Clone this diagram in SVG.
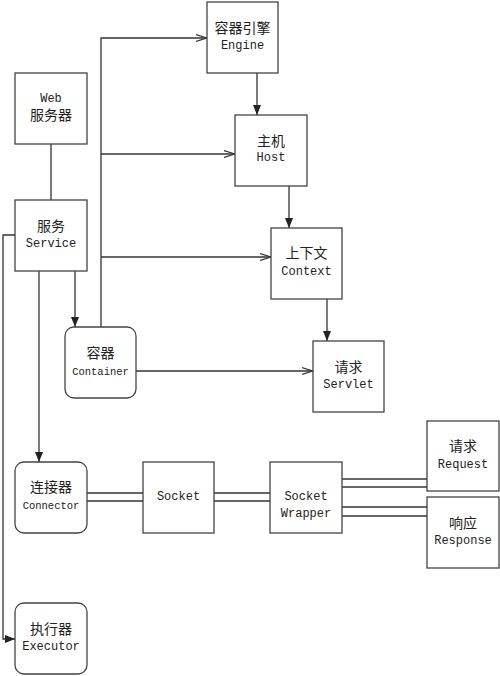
<svg xmlns="http://www.w3.org/2000/svg" width="500" height="676" viewBox="0 0 500 676">
<style>
.box{fill:#fff;stroke:#444;stroke-width:1.3}
.ln{fill:none;stroke:#333;stroke-width:1.3}
text{font-family:"Liberation Mono","Noto Sans CJK SC",monospace;fill:#222;text-anchor:middle;dominant-baseline:central}
.zh{font-size:14px}
.en{font-size:12px}
.sm{font-size:10.5px}
</style>
<defs>
<marker id="fa" viewBox="0 0 10 10" refX="10" refY="5" markerWidth="10" markerHeight="10" markerUnits="userSpaceOnUse" orient="auto">
<path d="M0,1 L10,5 L0,9 Z" fill="#222"/>
</marker>
<marker id="oa" viewBox="0 0 12 10" refX="11" refY="5" markerWidth="12" markerHeight="10" markerUnits="userSpaceOnUse" orient="auto">
<path d="M0,1.5 L11,5 L0,8.5" fill="none" stroke="#333" stroke-width="1.2"/>
</marker>
</defs>
<rect width="500" height="676" fill="#fff"/>
<g id="connectors">
<line class="ln" x1="51" y1="144" x2="51" y2="200"/>
<polyline class="ln" points="101,327 101,38 207,38" marker-end="url(#oa)"/>
<line class="ln" x1="101" y1="154" x2="235" y2="154" marker-end="url(#oa)"/>
<line class="ln" x1="101" y1="257" x2="271" y2="257" marker-end="url(#oa)"/>
<line class="ln" x1="257" y1="73" x2="257" y2="115" marker-end="url(#fa)"/>
<line class="ln" x1="289" y1="186" x2="289" y2="228" marker-end="url(#fa)"/>
<line class="ln" x1="327" y1="299" x2="327" y2="341" marker-end="url(#fa)"/>
<line class="ln" x1="75" y1="271" x2="75" y2="327" marker-end="url(#fa)"/>
<line class="ln" x1="136" y1="371" x2="313" y2="371" marker-end="url(#oa)"/>
<line class="ln" x1="39" y1="271" x2="39" y2="462" marker-end="url(#fa)"/>
<polyline class="ln" points="15,235 3,235 3,639 15,639" marker-end="url(#fa)"/>
<line class="ln" x1="87" y1="493" x2="143" y2="493"/>
<line class="ln" x1="87" y1="501" x2="143" y2="501"/>
<line class="ln" x1="214" y1="493" x2="270" y2="493"/>
<line class="ln" x1="214" y1="501" x2="270" y2="501"/>
<line class="ln" x1="342" y1="479" x2="427" y2="479"/>
<line class="ln" x1="342" y1="487" x2="427" y2="487"/>
<line class="ln" x1="342" y1="507" x2="427" y2="507"/>
<line class="ln" x1="342" y1="516" x2="427" y2="516"/>
</g>
<g id="web"><rect class="box" x="15" y="73" width="72" height="71"/><text class="en" x="51" y="99">Web</text><text class="zh" x="51" y="116">服务器</text></g>
<g id="service"><rect class="box" x="15" y="200" width="72" height="71"/><text class="zh" x="51" y="227">服务</text><text class="en" x="51" y="244">Service</text></g>
<g id="engine"><rect class="box" x="207" y="2" width="71" height="71"/><text class="zh" x="242.5" y="29">容器引擎</text><text class="en" x="242.5" y="46">Engine</text></g>
<g id="host"><rect class="box" x="235" y="115" width="72" height="71"/><text class="zh" x="271" y="142">主机</text><text class="en" x="271" y="158">Host</text></g>
<g id="context"><rect class="box" x="271" y="228" width="71" height="71"/><text class="zh" x="306.5" y="254">上下文</text><text class="en" x="306.5" y="272">Context</text></g>
<g id="container"><rect class="box" x="65" y="327" width="71" height="71" rx="9"/><text class="zh" x="100.5" y="354">容器</text><text class="sm" x="100.5" y="372">Container</text></g>
<g id="servlet"><rect class="box" x="313" y="341" width="71" height="71"/><text class="zh" x="348.5" y="368">请求</text><text class="en" x="348.5" y="385">Servlet</text></g>
<g id="connector"><rect class="box" x="15" y="462" width="72" height="71" rx="9"/><text class="zh" x="51" y="488">连接器</text><text class="sm" x="51" y="506">Connector</text></g>
<g id="socket"><rect class="box" x="143" y="462" width="71" height="71"/><text class="en" x="178.5" y="497">Socket</text></g>
<g id="wrapper"><rect class="box" x="270" y="462" width="72" height="71"/><text class="en" x="306" y="497">Socket</text><text class="en" x="306" y="514">Wrapper</text></g>
<g id="request"><rect class="box" x="427" y="421" width="72" height="70"/><text class="zh" x="463" y="447">请求</text><text class="en" x="463" y="465">Request</text></g>
<g id="response"><rect class="box" x="427" y="497" width="72" height="71"/><text class="zh" x="463" y="524">响应</text><text class="en" x="463" y="541">Response</text></g>
<g id="executor"><rect class="box" x="15" y="603" width="72" height="71" rx="9"/><text class="zh" x="51" y="630">执行器</text><text class="en" x="51" y="647">Executor</text></g>
</svg>
